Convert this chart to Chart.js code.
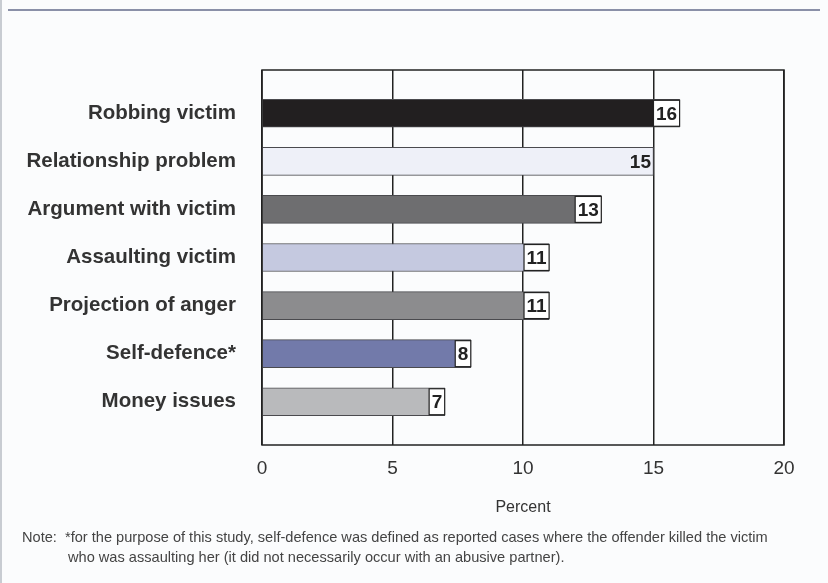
<!DOCTYPE html>
<html lang="en">
<head>
    <meta charset="UTF-8">
    <title>Motives</title>
    <script src="https://cdn.jsdelivr.net/npm/chart.js"></script>
    <style>
        body { margin: 0; background: #fbfcfd; }
        #wrap { position: relative; width: 828px; height: 583px; overflow: hidden; }
        #topline { position: absolute; left: 8px; top: 9px; width: 812px; height: 2px; background: #8a90a8; }
        #leftline { position: absolute; left: 0; top: 0; width: 2px; height: 583px; background: #c8ccd2; }
        #note { position: absolute; left: 22px; top: 527px; font: 14.6px "Liberation Sans", sans-serif; color: #444; line-height: 20px; }
        #note .indent { padding-left: 46px; }
    </style>
</head>
<body>
<div id="wrap">
    <div id="topline"></div>
    <div id="leftline"></div>
    <canvas id="chart" width="828" height="583"></canvas>
    <div id="note">
        <div>Note:&nbsp; *for the purpose of this study, self-defence was defined as reported cases where the offender killed the victim</div>
        <div class="indent">who was assaulting her (it did not necessarily occur with an abusive partner).</div>
    </div>
</div>
<script>
    // data
    const categories = ['Robbing victim', 'Relationship problem', 'Argument with victim', 'Assaulting victim',
        'Projection of anger', 'Self-defence*', 'Money issues'];
    const percents = [16, 15, 13, 11, 11, 8, 7];
    const xTicks = [0, 5, 10, 15, 20];

    // style
    const barColors = ['#221f20', '#eef0f8', '#6e6e70', '#c5c9e0', '#8c8c8e', '#727aaa', '#b9babc'];
    const boxed = [true, false, true, true, true, true, true];
    const sans = '"Liberation Sans", sans-serif';

    const frame = {
        id: 'frame',
        afterDatasetsDraw(chart) {
            const c = chart.ctx, a = chart.chartArea;
            const meta = chart.getDatasetMeta(0);
            c.save();
            c.font = 'bold 19px ' + sans;
            c.textAlign = 'right';
            c.textBaseline = 'middle';
            meta.data.forEach((bar, i) => {
                const txt = String(percents[i]);
                const w = c.measureText(txt).width + 5;
                const h = bar.height;
                const top = bar.y - h / 2;
                if (boxed[i]) {
                    c.fillStyle = '#ffffff';
                    c.fillRect(bar.x - w, top + 1, w, h - 2);
                    c.strokeStyle = '#222';
                    c.lineWidth = 1.2;
                    c.strokeRect(bar.x - w, top + 1, w, h - 2);
                }
                c.fillStyle = '#222';
                c.fillText(txt, bar.x - 2.5, bar.y + 1);
            });
            c.strokeStyle = '#222';
            c.lineWidth = 1.5;
            c.strokeRect(a.left, a.top, a.right - a.left, a.bottom - a.top);
            c.restore();
        }
    };

    new Chart(document.getElementById('chart'), {
        type: 'bar',
        data: {
            datasets: [{
                data: percents.map((v, i) => ({ x: v, y: i })),
                backgroundColor: barColors,
                borderColor: '#4a4a4e',
                borderWidth: 1,
                barThickness: 28
            }]
        },
        options: {
            indexAxis: 'y',
            responsive: false,
            animation: false,
            layout: { padding: { left: 10, right: 44, top: 70, bottom: 63 } },
            plugins: { legend: { display: false }, tooltip: { enabled: false } },
            scales: {
                x: {
                    type: 'linear',
                    min: 0,
                    max: 20,
                    afterBuildTicks: s => { s.ticks = xTicks.map(v => ({ value: v })); },
                    afterFit: s => { s.height = 75; },
                    grid: { color: '#222', lineWidth: 1.5, tickLength: 0, drawTicks: false },
                    border: { display: false },
                    ticks: { padding: 12, color: '#333', font: { family: sans, size: 19 } },
                    title: { display: true, text: 'Percent', color: '#333', padding: { top: 10, bottom: 3 },
                        font: { family: sans, size: 16 } }
                },
                y: {
                    type: 'linear',
                    reverse: true,
                    offset: false,
                    min: -0.9,
                    max: 6.9,
                    afterBuildTicks: s => { s.ticks = categories.map((_, i) => ({ value: i })); },
                    afterFit: s => { s.width = 252; },
                    grid: { display: false, offset: false },
                    border: { display: false },
                    ticks: {
                        padding: 18,
                        color: '#333',
                        font: { family: sans, size: 20.5, weight: 'bold' },
                        callback: v => categories[v]
                    }
                }
            }
        },
        plugins: [frame]
    });
</script>
</body>
</html>
